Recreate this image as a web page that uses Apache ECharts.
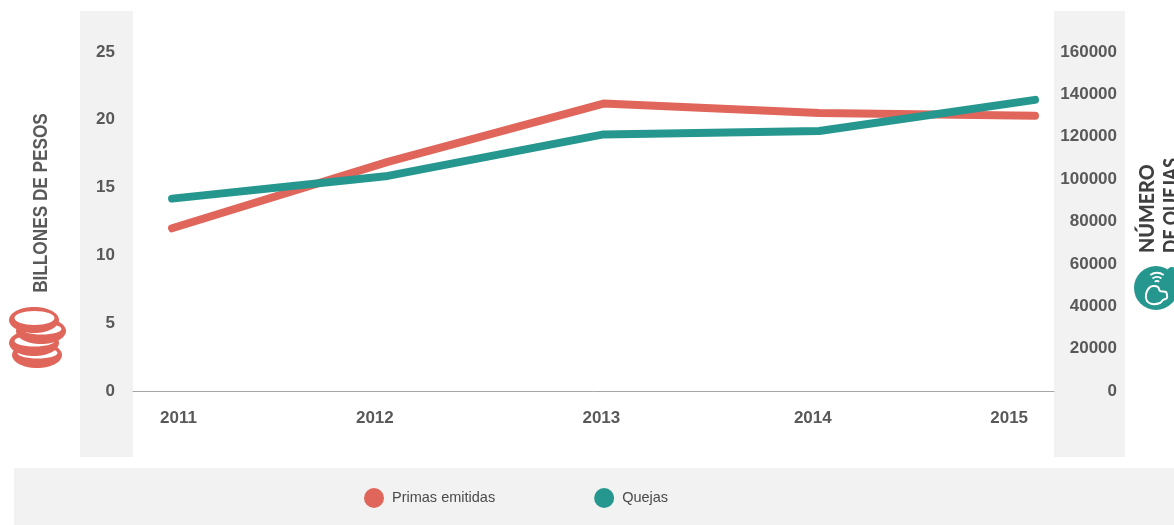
<!DOCTYPE html>
<html>
<head>
<meta charset="utf-8">
<style>html,body{margin:0;padding:0;background:#fff;overflow:hidden}#chart{width:1174px;height:525px}</style>
<script src="https://cdn.jsdelivr.net/npm/echarts@6/dist/echarts.min.js"></script>
</head>
<body>
<div id="chart"></div>
<script>
// Annual figures for written premiums and complaints
const years = [2011, 2012, 2013, 2014, 2015];
const primasEmitidas = [12.0, 16.9, 21.2, 20.5, 20.3];
const quejas = [90800, 101500, 121100, 122700, 137400];
// Where each year label sits along the horizontal axis
const yearLabelAnchors = [2011.03, 2011.94, 2012.99, 2013.97, 2014.88];

const RED = '#e0655a';
const TEAL = '#26978f';
const PANEL = '#f2f2f2';
const INK = '#595959';
const SANS = '"Liberation Sans", sans-serif';

const pair = (xs, ys) => xs.map((x, i) => [x, ys[i]]);
const panel = (x, y, width, height) => ({
  type: 'rect', z: -10, silent: true,
  shape: { x, y, width, height }, style: { fill: PANEL }
});
// One coin: a filled disc with a lighter face set towards its top edge
const coin = (cx, cy, faceRy) => [
  { type: 'ellipse', z: 5, shape: { cx, cy, rx: 25, ry: 13 }, style: { fill: RED } },
  { type: 'ellipse', z: 5, shape: { cx: cx + 0.5, cy: cy - 2, rx: 20, ry: faceRy }, style: { fill: '#fff' } }
];
// A signal arc of the badge
const signal = r => ({
  type: 'arc', z: 6,
  shape: { cx: 1157, cy: 285, r, startAngle: -Math.PI * 0.69, endAngle: -Math.PI * 0.31 },
  style: { fill: null, stroke: '#fff', lineWidth: 1.8 }
});
const tickLabel = extra => Object.assign({
  fontFamily: SANS, fontSize: 17, fontWeight: 'bold', color: INK, padding: [6, 0, 0, 0]
}, extra);

const chart = echarts.init(document.getElementById('chart'), null, { renderer: 'canvas' });
chart.setOption({
  animation: false,
  backgroundColor: '#fff',
  grid: { left: 133, right: 120, top: 52, bottom: 134, containLabel: false },
  legend: {
    left: 359, top: 483, itemWidth: 20, itemHeight: 20, itemGap: 99,
    icon: 'circle',
    textStyle: { fontFamily: SANS, fontSize: 14.5, color: '#4a4a4a', padding: [4, 0, 0, 3] },
    data: ['Primas emitidas', 'Quejas']
  },
  xAxis: {
    type: 'value', min: 2010.819, max: 2015.088,
    splitLine: { show: false },
    axisTick: { show: false },
    axisLine: { show: true, onZero: false, lineStyle: { color: '#a6a6a6', width: 1 } },
    axisLabel: tickLabel({
      customValues: yearLabelAnchors,
      formatter: v => String(Math.round(v)),
      margin: 19, padding: 0
    })
  },
  yAxis: [
    {
      type: 'value', min: 0, max: 25, interval: 5,
      splitLine: { show: false }, axisTick: { show: false }, axisLine: { show: false },
      axisLabel: tickLabel({ margin: 18 })
    },
    {
      type: 'value', min: 0, max: 160000, interval: 20000,
      splitLine: { show: false }, axisTick: { show: false }, axisLine: { show: false },
      axisLabel: tickLabel({ margin: 63, align: 'right', formatter: v => String(v) })
    }
  ],
  series: [
    {
      name: 'Primas emitidas', type: 'line', yAxisIndex: 0, z: 2,
      data: pair(years, primasEmitidas), showSymbol: false, symbol: 'circle',
      lineStyle: { color: RED, width: 8, cap: 'round', join: 'round' },
      itemStyle: { color: RED }
    },
    {
      name: 'Quejas', type: 'line', yAxisIndex: 1, z: 3,
      data: pair(years, quejas), showSymbol: false, symbol: 'circle',
      lineStyle: { color: TEAL, width: 8, cap: 'round', join: 'round' },
      itemStyle: { color: TEAL }
    }
  ],
  graphic: [
    panel(80, 11, 53, 446),
    panel(1054, 11, 71, 446),
    panel(14, 468, 1160, 57),
    {
      type: 'text', z: 5, x: 41, y: 203, rotation: Math.PI / 2, scaleX: 0.86,
      style: { text: 'BILLONES DE PESOS', font: 'bold 20px ' + SANS, fill: INK, align: 'center', verticalAlign: 'middle' }
    },
    {
      type: 'text', z: 5, x: 1147, y: 253, rotation: Math.PI / 2, scaleX: 0.94,
      style: { text: 'NÚMERO', font: '900 21px Lato, sans-serif', fill: '#3f3f3f', align: 'left', verticalAlign: 'middle' }
    },
    {
      type: 'text', z: 5, x: 1171, y: 253, rotation: Math.PI / 2, scaleX: 0.84,
      style: { text: 'DE QUEJAS', font: '900 21px Lato, sans-serif', fill: '#3f3f3f', align: 'left', verticalAlign: 'middle' }
    },
    ...coin(37, 355, 5.5),
    ...coin(34, 343, 5.5),
    ...coin(41, 331, 5.5),
    ...coin(34, 320, 7),
    { type: 'circle', z: 5, shape: { cx: 1156, cy: 288, r: 22 }, style: { fill: TEAL } },
    { type: 'circle', z: 5, shape: { cx: 1172, cy: 272, r: 5 }, style: { fill: TEAL } },
    signal(4), signal(8), signal(12),
    // Handset outline inside the badge
    {
      type: 'polygon', z: 6,
      shape: {
        points: [[1153, 286], [1158, 287], [1160, 291], [1166, 292], [1167, 298], [1163, 300], [1160, 303], [1152, 304], [1147, 301], [1146, 294], [1149, 288]],
        smooth: 0.25
      },
      style: { fill: null, stroke: '#fff', lineWidth: 2, lineJoin: 'round' }
    }
  ]
});
</script>
</body>
</html>
